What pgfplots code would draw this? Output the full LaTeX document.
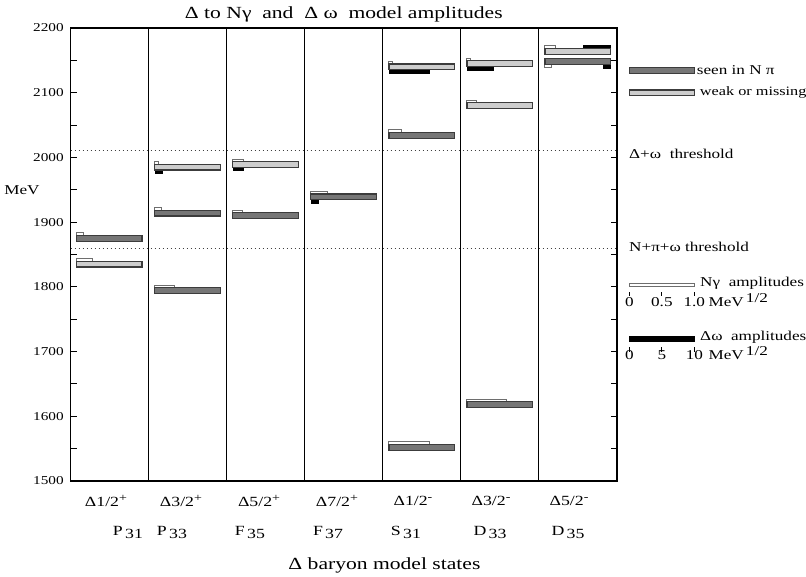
\documentclass[border=0pt]{standalone}
\usepackage{fontspec}
\setmainfont{Liberation Serif}[FakeStretch=1.27]
\usepackage{pgfplots}
\pgfplotsset{compat=1.18}
\definecolor{darkbar}{RGB}{118,118,118}
\definecolor{lightbar}{RGB}{205,205,205}
\definecolor{edge}{RGB}{60,60,60}
\definecolor{ngedge}{RGB}{110,110,110}

% main bar of a state: column, mass, fill
\newcommand\mainbar[3]{%
  \pgfmathsetmacro\xa{#1+0.077}\pgfmathsetmacro\xb{#1+0.915}%
  \pgfmathsetmacro\ya{#2-4.5}\pgfmathsetmacro\yb{#2+4.5}%
  \addplot[draw=edge, line width=1.3pt, fill=#3] coordinates {(\xa,\ya) (\xb,\ya) (\xb,\yb) (\xa,\yb)} -- cycle;
}
% N gamma amplitude: column, mass, amplitude (MeV^1/2), side (+1 above, -1 below)
\newcommand\ampNg[4]{%
  \pgfmathsetmacro\xa{#1+0.077}\pgfmathsetmacro\xb{#1+0.077+#3*0.833}%
  \pgfmathsetmacro\ya{#2+#4*4.5}\pgfmathsetmacro\yb{#2+#4*8.5}%
  \addplot[draw=ngedge, line width=1pt, fill=white] coordinates {(\xa,\ya) (\xb,\ya) (\xb,\yb) (\xa,\yb)} -- cycle;
}
% Delta omega amplitude: column, mass, amplitude, side, align (0 left, 1 right)
\newcommand\ampDw[5]{%
  \pgfmathsetmacro\xa{#1+0.077+#5*(0.838-#3*0.0833)}\pgfmathsetmacro\xb{\xa+#3*0.0833}%
  \pgfmathsetmacro\ya{#2+#4*4.5}\pgfmathsetmacro\yb{#2+#4*9.5}%
  \addplot[draw=black, line width=0.4pt, fill=black] coordinates {(\xa,\ya) (\xb,\ya) (\xb,\yb) (\xa,\yb)} -- cycle;
}
% state: column, mass, fill, Ngamma amp (above), Delta omega amp (below)
\newcommand\state[5]{%
  \ifdim #4pt>0pt \ampNg{#1}{#2}{#4}{1}\fi
  \ifdim #5pt>0pt \ampDw{#1}{#2}{#5}{-1}{0}\fi
  \mainbar{#1}{#2}{#3}%
}
\newcommand\parsup[1]{\raisebox{0.75ex}{\fontsize{11}{12}\selectfont #1}}
\newcommand\parsub[1]{\,\raisebox{-0.5ex}{#1}}

\begin{document}
\begin{tikzpicture}[x=1pt,y=1pt]
\useasboundingbox (-70.7,-95) rectangle (735.3,481);
\begin{axis}[
  at={(0,0)}, anchor=south west,
  scale only axis, width=546.3pt, height=453pt,
  xmin=0, xmax=7, ymin=1500, ymax=2200,
  clip=false,
  axis line style={line width=1.1pt},
  xtick=\empty,
  ytick={1500,1600,...,2200},
  minor ytick={1550,1650,...,2150},
  tick align=inside,
  major tick length=6pt, minor tick length=6pt,
  ytick pos=both, yticklabel pos=left,
  tick style={black, line width=1pt},
  yticklabel style={font=\fontsize{12}{14}\selectfont, xshift=-3.5pt},
  /pgf/number format/assume math mode=true,
  /pgf/number format/1000 sep={},
]
% column separators
\addplot[black, line width=1pt] coordinates {(1,1500) (1,2200)};
\addplot[black, line width=1pt] coordinates {(2,1500) (2,2200)};
\addplot[black, line width=1pt] coordinates {(3,1500) (3,2200)};
\addplot[black, line width=1pt] coordinates {(4,1500) (4,2200)};
\addplot[black, line width=1pt] coordinates {(5,1500) (5,2200)};
\addplot[black, line width=1pt] coordinates {(6,1500) (6,2200)};
% thresholds
\addplot[black!75, line width=1pt, dash pattern=on 1.2pt off 2.8pt] coordinates {(0,2010) (7,2010)};
\addplot[black!75, line width=1pt, dash pattern=on 1.2pt off 2.8pt] coordinates {(0,1860) (7,1860)};

% states
\state{0}{1875}{darkbar}{0.10}{0}
\state{0}{1835}{lightbar}{0.25}{0}
\state{1}{1985}{lightbar}{0.05}{1.1}
\state{1}{1914}{darkbar}{0.11}{0}
\state{1}{1794}{darkbar}{0.30}{0}
\state{2}{1989}{lightbar}{0.16}{1.6}
\state{2}{1910}{darkbar}{0.15}{0}
\state{3}{1939}{darkbar}{0.26}{1.1}
\state{4}{2140}{lightbar}{0.06}{6.2}
\state{4}{2034}{darkbar}{0.20}{0}
\state{4}{1552}{darkbar}{0.62}{0}
\state{5}{2145}{lightbar}{0.06}{4.1}
\state{5}{2080}{lightbar}{0.15}{0}
\state{5}{1618}{darkbar}{0.61}{0}
% column 6: amplitudes placed outside the close pair
\ampNg{6}{2164}{0.16}{1}
\ampDw{6}{2164}{4.2}{1}{1}
\mainbar{6}{2164}{lightbar}
\ampNg{6}{2148}{0.10}{-1}
\ampDw{6}{2148}{1.1}{-1}{1}
\mainbar{6}{2148}{darkbar}

% legend swatches
\addplot[draw=edge, line width=1.3pt, fill=darkbar] coordinates {(7.158,2130) (7.991,2130) (7.991,2139) (7.158,2139)} -- cycle;
\addplot[draw=edge, line width=1.3pt, fill=lightbar] coordinates {(7.158,2096) (7.991,2096) (7.991,2104) (7.158,2104)} -- cycle;
% amplitude scales
\addplot[draw=ngedge, line width=1pt, fill=white] coordinates {(7.158,1801) (7.991,1801) (7.991,1805) (7.158,1805)} -- cycle;
\addplot[black, line width=0.8pt] coordinates {(7.158,1792) (7.158,1786)};
\addplot[black, line width=0.8pt] coordinates {(7.575,1792) (7.575,1786)};
\addplot[black, line width=0.8pt] coordinates {(7.991,1792) (7.991,1786)};
\addplot[draw=black, line width=0.4pt, fill=black] coordinates {(7.158,1716) (7.991,1716) (7.991,1723) (7.158,1723)} -- cycle;
\addplot[black, line width=0.8pt] coordinates {(7.158,1707) (7.158,1700)};
\addplot[black, line width=0.8pt] coordinates {(7.575,1707) (7.575,1700)};
\addplot[black, line width=0.8pt] coordinates {(7.991,1707) (7.991,1700)};

% texts
\node[font=\fontsize{17}{20}\selectfont] at (axis cs:3.5,2221) {Δ to Nγ\ \ and\ \ Δ ω\ \ model amplitudes};
\node[font=\fontsize{17}{20}\selectfont] at (axis cs:4.02,1370) {Δ baryon model states};
\node[font=\fontsize{13.5}{15}\selectfont] at (axis cs:-0.624,1950) {MeV};

\begin{scope}[every node/.style={font=\fontsize{13.5}{15}\selectfont, inner sep=0pt}]
\node[anchor=west] at (axis cs:8.022,2134.5) {seen in N π};
\node[anchor=west, font=\fontsize{12.8}{15}\selectfont] at (axis cs:8.06,2100) {weak or missing};
\node[anchor=west] at (axis cs:7.154,2005) {Δ+ω\ \ threshold};
\node[anchor=west] at (axis cs:7.154,1862) {N+π+ω threshold};
\node[anchor=west] at (axis cs:8.064,1805) {Nγ\ \ amplitudes};
\node[anchor=west] at (axis cs:8.064,1722) {Δω\ \ amplitudes};
\node[anchor=base] at (axis cs:7.158,1769) {0};
\node[anchor=base] at (axis cs:7.575,1769) {0.5};
\node[anchor=base] at (axis cs:7.991,1769) {1.0};
\node[anchor=base west] at (axis cs:8.17,1769) {MeV\,\raisebox{4.5pt}{1/2}};
\node[anchor=base] at (axis cs:7.158,1687) {0};
\node[anchor=base] at (axis cs:7.575,1687) {5};
\node[anchor=base] at (axis cs:7.991,1687) {10};
\node[anchor=base west] at (axis cs:8.17,1687) {MeV\,\raisebox{4.5pt}{1/2}};
\end{scope}
\begin{scope}[every node/.style={font=\fontsize{14}{16}\selectfont, inner sep=0pt}]
% column labels
\node at (axis cs:0.452,1469) {Δ1/2\parsup{+}};
\node at (axis cs:1.413,1469) {Δ3/2\parsup{+}};
\node at (axis cs:2.413,1469) {Δ5/2\parsup{+}};
\node at (axis cs:3.412,1469) {Δ7/2\parsup{+}};
\node at (axis cs:4.386,1469) {Δ1/2\parsup{-}};
\node at (axis cs:5.386,1469) {Δ3/2\parsup{-}};
\node at (axis cs:6.385,1469) {Δ5/2\parsup{-}};
\node at (axis cs:0.734,1421) {P\parsub{31}};
\node at (axis cs:1.298,1421) {P\parsub{33}};
\node at (axis cs:2.297,1421) {F\parsub{35}};
\node at (axis cs:3.297,1421) {F\parsub{37}};
\node at (axis cs:4.296,1421) {S\parsub{31}};
\node at (axis cs:5.373,1421) {D\parsub{33}};
\node at (axis cs:6.372,1421) {D\parsub{35}};
\end{scope}
\end{axis}
\end{tikzpicture}
\end{document}
